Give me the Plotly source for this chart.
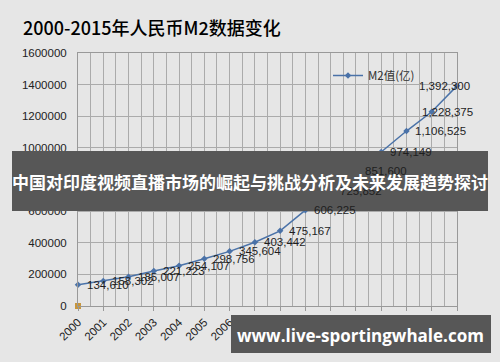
import plotly.graph_objects as go

years = list(range(2000, 2016))
m2_values = [134610, 158302, 185007, 221223, 254107, 298756, 345604, 403442,
             475167, 606225, 725852, 851600, 974149, 1106525, 1228375, 1392300]
m2_labels = [f"{v:,}" for v in m2_values]
label_shift = [7] * 14 + [-12, -40]
extra_x = [2000]
extra_y = [0]

title_text = "2000-2015年人民币M2数据变化"
banner_text = "中国对印度视频直播市场的崛起与挑战分析及未来发展趋势探讨"
watermark_text = "www.live-sportingwhale.com"

W, H = 500, 362
L, R, T, B = 78, 457, 53, 306

def px(x):
    return (x - L) / (R - L)

def py(y):
    return (B - y) / (B - T)

fig = go.Figure()
fig.add_trace(go.Scatter(
    x=years, y=m2_values, mode="lines+markers", name="M2值(亿)",
    line=dict(color="#4a72a8", width=1.5),
    marker=dict(symbol="diamond", size=5, color="#4a72a8"),
    cliponaxis=False,
))
fig.add_trace(go.Scatter(
    x=extra_x, y=extra_y, mode="markers", showlegend=False,
    marker=dict(symbol="square", size=6, color="#c8963c"),
    cliponaxis=False,
))

annotations = []
for x, y, t, s in zip(years, m2_values, m2_labels, label_shift):
    annotations.append(dict(
        x=x, y=y, xref="x", yref="y", text=t, showarrow=False,
        xanchor="left", yanchor="middle", xshift=s,
        font=dict(size=11.5, color="#1e1e1e", family="Liberation Sans")))

annotations += [
    dict(text=title_text, xref="paper", yref="paper", x=px(21), y=py(27),
         xanchor="left", yanchor="middle", showarrow=False,
         font=dict(size=18, color="#000", family="Noto Sans CJK SC", weight=500)),
    dict(text="<b>" + banner_text + "</b>", xref="paper", yref="paper",
         x=px(250), y=py(182), xanchor="center", yanchor="middle",
         showarrow=False,
         font=dict(size=17, color="white", family="Noto Sans CJK SC")),
    dict(text="<b>" + watermark_text + "</b>", xref="paper", yref="paper",
         x=px(360), y=py(335), xanchor="center", yanchor="middle",
         showarrow=False,
         font=dict(size=17, color="white", family="Open Sans")),
]

grid = "#ababab"
fig.update_layout(
    width=W, height=H, autosize=False,
    margin=dict(l=L, r=W - R, t=T, b=H - B),
    paper_bgcolor="#e6e6e6", plot_bgcolor="#e6e6e6",
    font=dict(family="Noto Sans CJK SC", color="#222"),
    showlegend=True,
    legend=dict(x=px(328), y=py(61), xanchor="left", yanchor="top",
                bgcolor="rgba(0,0,0,0)", font=dict(size=11.5, color="#333"),
                itemwidth=30),
    xaxis=dict(range=[2000, 2015], dtick=1, tick0=2000, tickangle=-45,
               showgrid=True, gridcolor=grid, gridwidth=1,
               minor=dict(dtick=0.5, showgrid=True, gridcolor=grid, gridwidth=1),
               showline=True, linecolor="#999", mirror=True, zeroline=False,
               ticks="outside", ticklen=4, tickcolor="#999",
               tickfont=dict(size=11.5, color="#222", family="Liberation Sans")),
    yaxis=dict(range=[0, 1600000], dtick=200000, tickformat="d",
               showgrid=True, gridcolor=grid, gridwidth=1,
               showline=True, linecolor="#999", mirror=True, zeroline=False,
               ticks="", ticklabelstandoff=8,
               tickfont=dict(size=11.5, color="#222", family="Liberation Sans")),
    shapes=[
        dict(type="rect", xref="paper", yref="paper",
             x0=px(12), x1=px(488), y0=py(211), y1=py(151),
             fillcolor="#575757", line=dict(width=0), layer="above"),
        dict(type="rect", xref="paper", yref="paper",
             x0=px(231), x1=px(491), y0=py(353), y1=py(315),
             fillcolor="#575757", line=dict(width=0), layer="above"),
    ],
    annotations=annotations,
)

fig.write_html("out.html")
